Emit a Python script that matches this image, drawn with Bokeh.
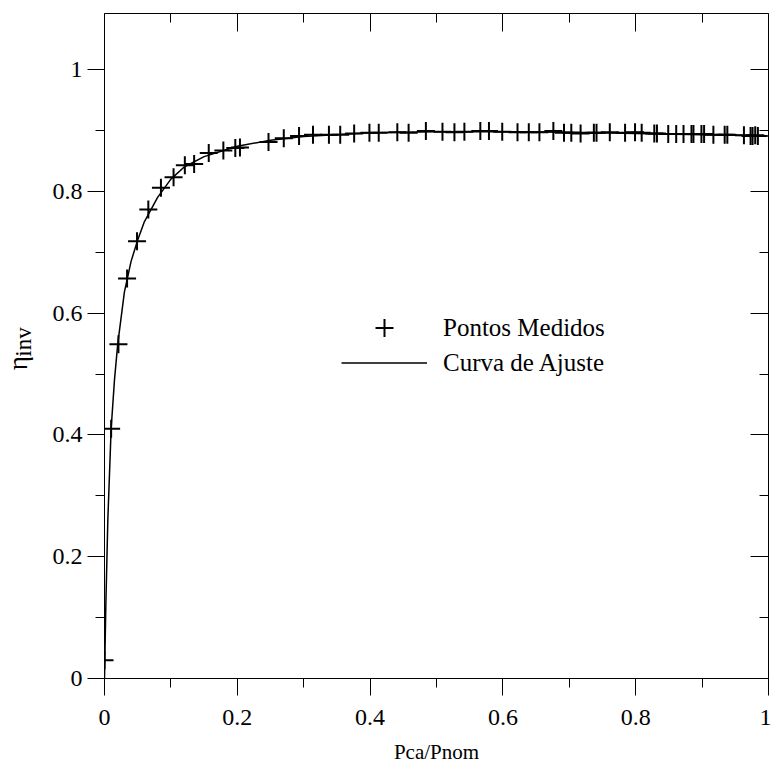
from bokeh.plotting import figure
from bokeh.models import (LinearAxis, FixedTicker, Range1d, Legend, LegendItem,
                          Label, CustomJSTickFormatter)
from bokeh.embed import file_html
from bokeh.resources import INLINE

# ---- data ----
pts_x = [0.0, 0.010, 0.021, 0.034, 0.049, 0.066, 0.085, 0.104, 0.121, 0.135,
         0.157, 0.179, 0.197, 0.204, 0.247, 0.270, 0.293, 0.314, 0.338, 0.355,
         0.376, 0.399, 0.413, 0.441, 0.458, 0.484, 0.509, 0.527, 0.542, 0.566,
         0.579, 0.599, 0.622, 0.639, 0.655, 0.676, 0.692, 0.703, 0.717, 0.737,
         0.741, 0.761, 0.784, 0.799, 0.809, 0.828, 0.832, 0.849, 0.861, 0.872,
         0.884, 0.887, 0.899, 0.903, 0.917, 0.934, 0.938, 0.963, 0.973, 0.976,
         0.980, 0.984]
pts_y = [0.030, 0.410, 0.549, 0.657, 0.718, 0.770, 0.806, 0.823, 0.843, 0.845,
         0.863, 0.867, 0.871, 0.872, 0.881, 0.887, 0.891, 0.893, 0.893, 0.893,
         0.895, 0.896, 0.896, 0.897, 0.896, 0.899, 0.898, 0.897, 0.898, 0.899,
         0.899, 0.898, 0.897, 0.897, 0.897, 0.899, 0.896, 0.896, 0.895, 0.896,
         0.896, 0.897, 0.896, 0.897, 0.896, 0.895, 0.895, 0.894, 0.894, 0.894,
         0.894, 0.894, 0.894, 0.894, 0.893, 0.893, 0.893, 0.892, 0.891, 0.891,
         0.892, 0.891]

curve_x = [0.0, 0.002, 0.005, 0.010, 0.015, 0.020, 0.030, 0.040, 0.050, 0.060,
           0.080, 0.100, 0.120, 0.150, 0.200, 0.250, 0.300, 0.400, 0.500, 0.600,
           0.700, 0.800, 0.900, 1.000]
curve_y = [0.0, 0.120, 0.260, 0.410, 0.490, 0.550, 0.635, 0.685, 0.720, 0.750,
           0.790, 0.820, 0.840, 0.857, 0.874, 0.884, 0.890, 0.896, 0.898, 0.898,
           0.897, 0.895, 0.893, 0.891]

x_ticks = [0, 0.2, 0.4, 0.6, 0.8, 1.0]
x_minor = [0.1, 0.3, 0.5, 0.7, 0.9]
y_ticks = [0, 0.2, 0.4, 0.6, 0.8, 1.0]
y_minor = [0.1, 0.3, 0.5, 0.7, 0.9]

x_label = "Pca/Pnom"
y_label_main = "η"
y_label_sub = "inv"
legend_labels = ["Pontos Medidos", "Curva de Ajuste"]

FONT = "Liberation Serif"

p = figure(width=777, height=767, x_range=Range1d(0, 1), y_range=Range1d(0, 1.092),
           output_backend="svg", toolbar_location=None,
           min_border_left=104, min_border_right=3, min_border_top=13, min_border_bottom=89,
           margin=(0, 0, 0, -6))
p.grid.visible = False
p.outline_line_color = None
p.background_fill_color = "white"
p.border_fill_color = "white"

fmt = CustomJSTickFormatter(code="return String(Math.round(tick*10)/10);")

def style(ax, ticks, minor, out, labels=True):
    ax.ticker = FixedTicker(ticks=ticks, minor_ticks=minor)
    ax.axis_line_color = "black"
    ax.major_tick_line_color = "black"
    ax.minor_tick_line_color = "black"
    if out:
        ax.major_tick_out, ax.major_tick_in = 17, 0
        ax.minor_tick_out, ax.minor_tick_in = 9, 0
    else:
        ax.major_tick_out, ax.major_tick_in = 0, 18
        ax.minor_tick_out, ax.minor_tick_in = 0, 9
    if labels:
        ax.formatter = fmt
        ax.major_label_text_font = FONT
        ax.major_label_text_font_size = "24px"
        ax.major_label_text_color = "black"
    else:
        ax.major_label_text_color = None
        ax.major_label_text_font_size = "1px"
        ax.major_label_standoff = 0

style(p.xaxis[0], x_ticks, x_minor, True)
p.xaxis[0].major_label_standoff = 14
p.xaxis[0].axis_label = x_label
p.xaxis[0].axis_label_text_font = FONT
p.xaxis[0].axis_label_text_font_style = "normal"
p.xaxis[0].axis_label_text_font_size = "21px"
p.xaxis[0].axis_label_text_color = "black"
p.xaxis[0].axis_label_standoff = 12

style(p.yaxis[0], y_ticks, y_minor, True)
p.yaxis[0].major_label_standoff = 5

top = LinearAxis()
style(top, x_ticks, x_minor, False, labels=False)
p.add_layout(top, "above")
right = LinearAxis()
style(right, y_ticks, y_minor, False, labels=False)
p.add_layout(right, "right")

curve = p.line(curve_x, curve_y, line_color="black", line_width=1.5)
pts = p.scatter(pts_x, pts_y, marker="cross", size=18, line_color="black", line_width=2)

leg1 = Legend(items=[LegendItem(label=legend_labels[0], renderers=[pts])],
              location=(237, 328), glyph_width=86, glyph_height=45, label_standoff=16,
              padding=0, margin=0, spacing=0, border_line_color=None,
              background_fill_alpha=0, label_text_font=FONT, label_text_font_size="25px",
              label_text_color="black")
leg2 = Legend(items=[LegendItem(label=legend_labels[1], renderers=[curve])],
              location=(237, 298), glyph_width=86, glyph_height=35, label_standoff=16,
              padding=0, margin=0, spacing=0, border_line_color=None,
              background_fill_alpha=0, label_text_font=FONT, label_text_font_size="25px",
              label_text_color="black")
p.add_layout(leg1)
p.add_layout(leg2)

# y-axis title (eta with subscript), in the left side panel
p.add_layout(Label(x=-0.131, y=0.506, text=y_label_main,
                   angle=90, angle_units="deg", text_font=FONT, text_font_size="27px",
                   text_baseline="alphabetic", text_align="left", text_color="black"), "left")
p.add_layout(Label(x=-0.1216, y=0.5285, text=y_label_sub,
                   angle=90, angle_units="deg", text_font=FONT, text_font_size="23px",
                   text_baseline="alphabetic", text_align="left", text_color="black"), "left")

open("out.html", "w").write(file_html(p, INLINE))
